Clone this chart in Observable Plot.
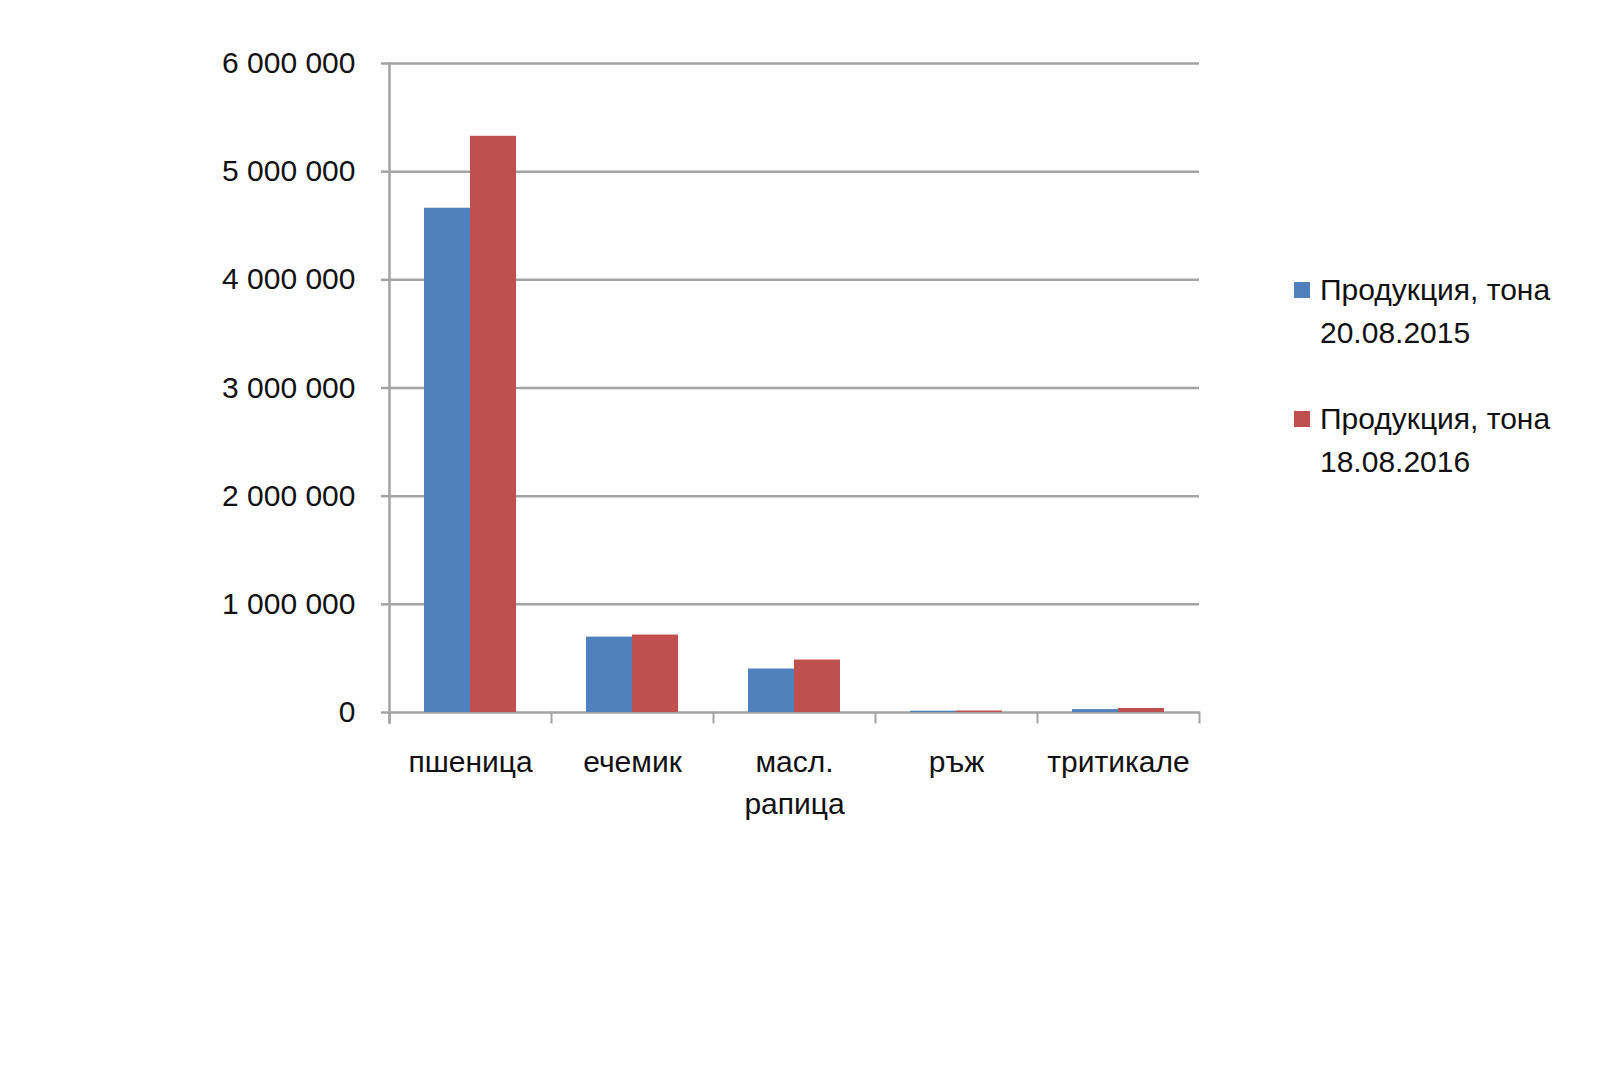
<!DOCTYPE html>
<html>
<head>
<meta charset="utf-8">
<script src="https://cdn.jsdelivr.net/npm/d3@7"></script>
<script src="https://cdn.jsdelivr.net/npm/@observablehq/plot@0.6"></script>
<style>
  html, body { margin: 0; padding: 0; background: #fff; }
  #wrap { position: relative; width: 1600px; height: 1066px; }
  #legend { position: absolute; left: 1294px; top: 268px; font-family: "Liberation Sans", Arial, sans-serif; font-size: 30px; color: #111; line-height: 43px; }
  .item { display: flex; align-items: flex-start; margin-bottom: 43px; }
  .sw { width: 16px; height: 16px; margin-top: 14px; margin-right: 10px; flex: none; }
</style>
</head>
<body>
<div id="wrap"><div id="legend"></div></div>
<script>
const categories = ["пшеница", "ечемик", "масл.\nрапица", "ръж", "тритикале"];
const series = ["Продукция, тона 20.08.2015", "Продукция, тона 18.08.2016"];
const seriesLabels = [["Продукция, тона", "20.08.2015"], ["Продукция, тона", "18.08.2016"]];
const values2015 = [4662000, 697000, 402000, 12000, 27000];
const values2016 = [5327000, 716000, 485000, 14000, 37000];
const yTicks = [0, 1000000, 2000000, 3000000, 4000000, 5000000, 6000000];
const colors = ["#4F81BD", "#C0504D"];

const data = [];
categories.forEach((c, i) => {
  data.push({category: c, series: series[0], value: values2015[i]});
  data.push({category: c, series: series[1], value: values2016[i]});
});

const grey = "#a3a3a3";
const fmt = d => d3.format(",")(d).replace(/,/g, " ");

const chart = Plot.plot({
  width: 1600,
  height: 1066,
  marginLeft: 388,
  marginRight: 400,
  marginTop: 63,
  marginBottom: 354,
  style: {fontFamily: "'Liberation Sans', Arial, sans-serif", fontSize: "30px", color: "#111", background: "#fff"},
  fx: {domain: categories, padding: 0},
  x: {domain: series, paddingInner: 0, paddingOuter: 0.74, axis: null},
  y: {domain: [0, 6000000], axis: null},
  color: {domain: series, range: colors},
  marks: [
    Plot.ruleY(yTicks, {stroke: grey, strokeWidth: 2.5}),
    Plot.barY(data, {fx: "category", x: "series", y: "value", fill: "series"}),
    Plot.frame({anchor: "left", facetAnchor: "left", stroke: grey, strokeWidth: 2.5, insetBottom: -10}),
    Plot.frame({anchor: "left", stroke: grey, strokeWidth: 2, insetTop: 649, insetBottom: -10}),
    Plot.frame({anchor: "right", facetAnchor: "right", stroke: grey, strokeWidth: 2, insetTop: 649, insetBottom: -10}),
    Plot.axisY(yTicks, {tickSize: 8, tickPadding: 26, stroke: grey, strokeWidth: 2.5, tickFormat: fmt, fontSize: 30, label: null}),
    Plot.axisFx({anchor: "bottom", tickSize: 0, tickPadding: 30, fontSize: 30, lineHeight: 1.4, label: null})
  ]
});

document.getElementById("wrap").prepend(chart);

const legend = document.getElementById("legend");
seriesLabels.forEach((lines, i) => {
  const item = document.createElement("div");
  item.className = "item";
  const sw = document.createElement("div");
  sw.className = "sw";
  sw.style.background = colors[i];
  const txt = document.createElement("div");
  txt.innerHTML = lines.join("<br>");
  item.appendChild(sw);
  item.appendChild(txt);
  legend.appendChild(item);
});
</script>
</body>
</html>
